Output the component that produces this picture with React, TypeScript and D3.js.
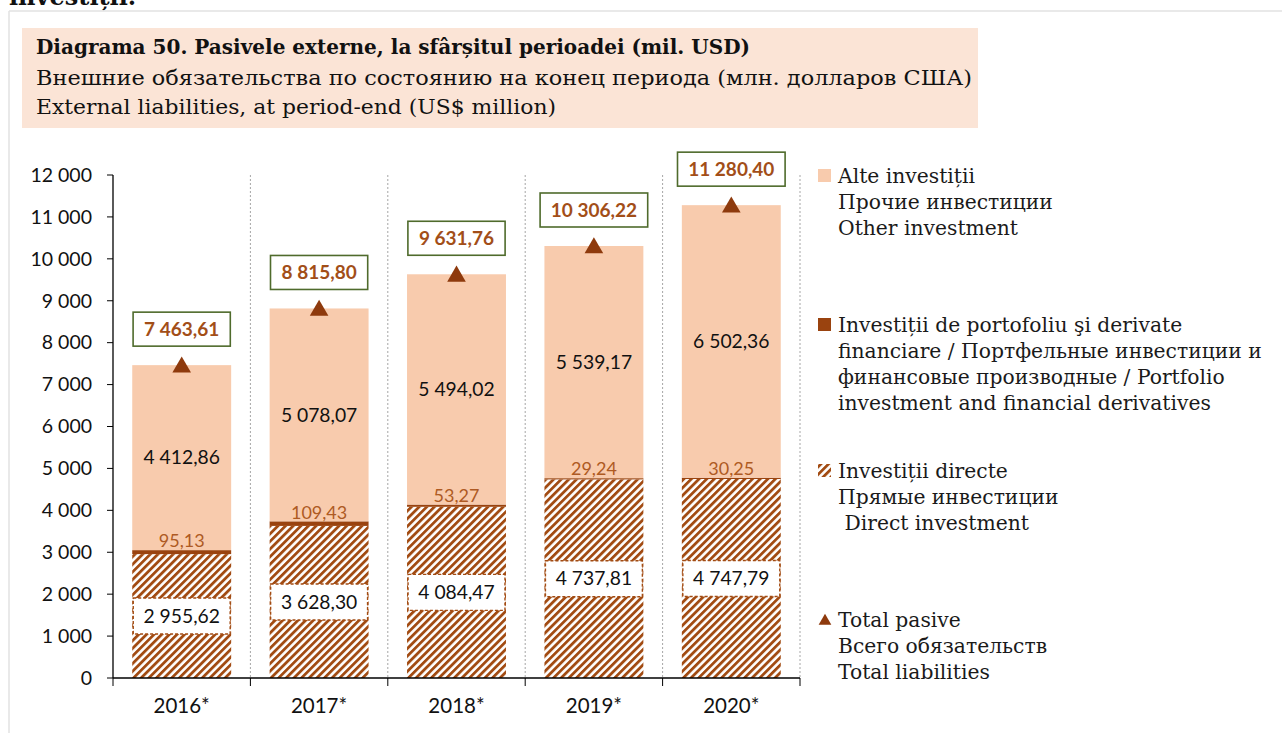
import React from "react";
import * as d3 from "d3";

const years = ["2016*", "2017*", "2018*", "2019*", "2020*"];
const directInv = [2955.62, 3628.3, 4084.47, 4737.81, 4747.79];
const portfolioInv = [95.13, 109.43, 53.27, 29.24, 30.25];
const otherInv = [4412.86, 5078.07, 5494.02, 5539.17, 6502.36];
const totalLiab = [7463.61, 8815.8, 9631.76, 10306.22, 11280.4];
const yTicks = [0, 1000, 2000, 3000, 4000, 5000, 6000, 7000, 8000, 9000, 10000, 11000, 12000];

const titleLines = [
  "Diagrama 50. Pasivele externe, la sfârșitul perioadei (mil. USD)",
  "Внешние обязательства по состоянию на конец периода (млн. долларов США)",
  "External liabilities, at period-end (US$ million)",
];
const legendOther = ["Alte investiții", "Прочие инвестиции", "Other investment"];
const legendPortfolio = [
  "Investiții de portofoliu şi derivate",
  "financiare / Портфельные инвестиции и",
  "финансовые производные / Portfolio",
  "investment and financial derivatives",
];
const legendDirect = ["Investiții directe", "Прямые инвестиции", " Direct investment"];
const legendTotal = ["Total pasive", "Всего обязательств", "Total liabilities"];

const C_OTHER = "#F8CBAD";
const C_PORT = "#9A430F";
const C_HATCH = "#A24B12";
const C_PORT_LBL = "#AE5A23";
const C_TOTAL_TXT = "#A24E18";
const C_TRI = "#8E3A0D";
const C_GREEN = "#4F6B2C";
const SERIF = "'DejaVu Serif', serif";
const SANS = "Lato, 'Liberation Sans', sans-serif";

const fmt = (v: number) => {
  const [i, d] = v.toFixed(2).split(".");
  const ii = i.replace(/\B(?=(\d{3})+(?!\d))/g, " ");
  return ii + "," + d;
};

export default function App() {
  const x = d3.scaleBand<string>().domain(years).range([113, 800]).paddingInner(0.28).paddingOuter(0.14);
  const y = d3.scaleLinear().domain([0, 12000]).range([678, 175]);
  const bw = x.bandwidth();
  const step = x.step();
  const boundaries = years.map((_, i) => 113 + step * (i + 1));

  const legendBlock = (lines: string[], y0: number) =>
    lines.map((t, i) => (
      <text key={i} x={838} y={y0 + i * 26} dy="0.35em" fontFamily={SERIF} fontSize={20.3} fill="#1a1a1a" xmlSpace="preserve">
        {t}
      </text>
    ));

  return (
    <svg width={1282} height={733} style={{ position: "absolute", left: 0, top: 0, background: "#fff" }}>
      <defs>
        <pattern id="hatch" patternUnits="userSpaceOnUse" width={5.4} height={5.4} patternTransform="rotate(45)">
          <rect width={5.4} height={5.4} fill="#fff" />
          <rect width={2.8} height={5.4} fill={C_HATCH} />
        </pattern>
      </defs>
      {/* heading of the page, cut at the top edge as in the source */}
      <text x={9} y={5} fontFamily={SERIF} fontWeight="bold" fontSize={24} fill="#111">investiții.</text>
      {/* outer border */}
      <line x1={9} x2={1282} y1={11} y2={11} stroke="#E2E2E2" strokeWidth={1.5} />
      <line x1={9} x2={9} y1={11} y2={733} stroke="#E2E2E2" strokeWidth={1.5} />
      {/* header box */}
      <rect x={22} y={28} width={956} height={100} fill="#FBE4D6" />
      <text x={36} y={47} dy="0.35em" fontFamily={SERIF} fontWeight="bold" fontSize={19.5} fill="#111"
        textLength={714} lengthAdjust="spacingAndGlyphs">
        {titleLines[0]}
      </text>
      <text x={36} y={78} dy="0.35em" fontFamily={SERIF} fontSize={19.5} fill="#111"
        textLength={936} lengthAdjust="spacingAndGlyphs">
        {titleLines[1]}
      </text>
      <text x={36} y={107} dy="0.35em" fontFamily={SERIF} fontSize={19.5} fill="#111"
        textLength={520} lengthAdjust="spacingAndGlyphs">
        {titleLines[2]}
      </text>

      {/* dotted category separators */}
      {boundaries.map((bx, i) => (
        <line key={i} x1={bx} x2={bx} y1={175} y2={678} stroke="#A6A6A6" strokeWidth={1} strokeDasharray="2,2" />
      ))}

      {/* bars */}
      {years.map((yr, i) => {
        const x0 = x(yr)!;
        const d = directInv[i];
        const p = portfolioInv[i];
        const o = otherInv[i];
        return (
          <g key={yr}>
            <rect x={x0} y={y(d)} width={bw} height={y(0) - y(d)} fill="url(#hatch)" />
            <rect x={x0} y={y(d + p)} width={bw} height={Math.max(y(d) - y(d + p), 1)} fill={C_PORT} />
            <rect x={x0} y={y(d + p + o)} width={bw} height={y(d + p) - y(d + p + o)} fill={C_OTHER} />
          </g>
        );
      })}

      {/* y axis */}
      <line x1={113} x2={113} y1={175} y2={678} stroke="#000" strokeWidth={1.3} />
      {yTicks.map((t) => (
        <g key={t}>
          <line x1={107} x2={113} y1={y(t)} y2={y(t)} stroke="#000" strokeWidth={1} />
          <text x={92} y={y(t)} dy="0.35em" textAnchor="end" fontFamily={SANS} fontSize={19.5} fill="#111">
            {t === 0 ? "0" : d3.format(",")(t).replace(/,/g, " ")}
          </text>
        </g>
      ))}
      {/* x axis */}
      <line x1={113} x2={800} y1={678} y2={678} stroke="#000" strokeWidth={1.3} />
      {[113, ...boundaries].map((bx, i) => (
        <line key={i} x1={bx} x2={bx} y1={678} y2={686} stroke="#000" strokeWidth={1} />
      ))}
      {years.map((yr) => (
        <text key={yr} x={x(yr)! + bw / 2} y={706} dy="0.35em" textAnchor="middle" fontFamily={SANS} fontSize={20.5} fill="#111">
          {yr}
        </text>
      ))}

      {/* labels */}
      {years.map((yr, i) => {
        const cx = x(yr)! + bw / 2;
        const d = directInv[i];
        const p = portfolioInv[i];
        const o = otherInv[i];
        const tot = totalLiab[i];
        const totTxt = fmt(tot);
        const boxW = totTxt.length * 10.4 + 14;
        const ty = y(tot);
        return (
          <g key={yr}>
            <rect x={x(yr)! + 1} y={y(d / 2) - 18} width={bw - 2} height={36} fill="#fff" stroke={C_HATCH} strokeWidth={1.4} strokeDasharray="3,2" />
            <text x={cx} y={y(d / 2)} dy="0.35em" textAnchor="middle" fontFamily={SANS} fontSize={19.3} fill="#111">
              {fmt(d)}
            </text>
            <text x={cx} y={y(d + p) - 9} dy="0.35em" textAnchor="middle" fontFamily={SANS} fontSize={18} fill={C_PORT_LBL}>
              {fmt(p)}
            </text>
            <text x={cx} y={y(d + p + o / 2)} dy="0.35em" textAnchor="middle" fontFamily={SANS} fontSize={19.3} fill="#111">
              {fmt(o)}
            </text>
            <path d={d3.symbol(d3.symbolTriangle, 150)()!} transform={`translate(${cx},${ty + 2})`} fill={C_TRI} />
            <rect x={cx - boxW / 2} y={ty - 53} width={boxW} height={34} fill="#fff" stroke={C_GREEN} strokeWidth={1.6} />
            <text x={cx} y={ty - 36} dy="0.35em" textAnchor="middle" fontFamily={SANS} fontWeight="bold" fontSize={19} fill={C_TOTAL_TXT}>
              {totTxt}
            </text>
          </g>
        );
      })}

      {/* legend */}
      <rect x={818} y={169} width={13} height={13} fill={C_OTHER} />
      {legendBlock(legendOther, 176)}
      <rect x={818} y={318} width={13} height={13} fill={C_PORT} />
      {legendBlock(legendPortfolio, 325)}
      <rect x={818} y={464} width={13} height={13} fill="url(#hatch)" />
      {legendBlock(legendDirect, 471)}
      <path d={d3.symbol(d3.symbolTriangle, 70)()!} transform="translate(825,621)" fill={C_TRI} />
      {legendBlock(legendTotal, 620)}
    </svg>
  );
}
